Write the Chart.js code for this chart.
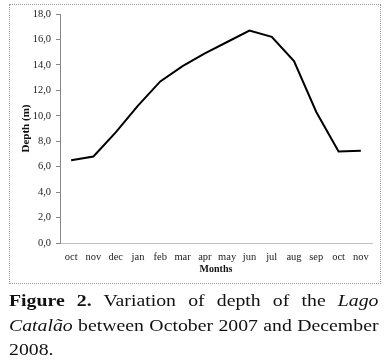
<!DOCTYPE html>
<html>
<head>
<meta charset="utf-8">
<script src="https://cdn.jsdelivr.net/npm/chart.js@4"></script>
<style>
  html, body { margin: 0; padding: 0; background: #fff; }
  body { width: 387px; height: 362px; position: relative; overflow: hidden; }
  #frame { position: absolute; left: 9px; top: 4px; width: 372px; height: 280px; border: 1px dotted #999; box-sizing: border-box; }
  #wrap { position: absolute; left: 0; top: 0; width: 387px; height: 290px; }
  #caption { position: absolute; left: 9px; top: 288px; width: 327px; transform: scaleX(1.13); transform-origin: 0 0; font-family: "Liberation Serif", "Times New Roman", serif; font-size: 17.5px; line-height: 24.5px; color: #111; }
  #caption .ln { display: block; white-space: nowrap; }
  #caption .j { text-align: justify; text-align-last: justify; white-space: normal; }
  #caption b { font-weight: bold; }
</style>
</head>
<body>
<div id="frame"></div>
<div id="wrap"><canvas id="c" width="387" height="290"></canvas></div>
<div id="caption"><span class="ln j"><b>Figure 2.</b> Variation of depth of the <i>Lago</i></span><span class="ln j"><i>Catalão</i> between October 2007 and December</span><span class="ln">2008.</span></div>
<script>
const categories = ["oct", "nov", "dec", "jan", "feb", "mar", "apr", "may", "jun", "jul", "aug", "sep", "oct", "nov"];
const depthValues = [6.5, 6.8, 8.7, 10.8, 12.7, 13.9, 14.9, 15.8, 16.7, 16.2, 14.3, 10.3, 7.2, 7.25];
const yTicks = [0, 2, 4, 6, 8, 10, 12, 14, 16, 18];

new Chart(document.getElementById('c'), {
  type: 'line',
  data: {
    labels: categories,
    datasets: [{
      data: depthValues,
      borderColor: '#000',
      borderWidth: 2,
      pointRadius: 0,
      tension: 0,
      fill: false
    }]
  },
  options: {
    responsive: false,
    animation: false,
    layout: { padding: { left: 10, right: 15, top: 14, bottom: 10 } },
    plugins: { legend: { display: false }, tooltip: { enabled: false } },
    scales: {
      x: {
        offset: true,
        grid: { display: false, drawTicks: false },
        border: { display: true, color: '#d8b4dc', width: 1 },
        ticks: { color: '#222', font: { family: 'Liberation Serif', size: 10.5 }, padding: 8, maxRotation: 0, autoSkip: false },
        title: { display: true, text: 'Months', color: '#111', font: { family: 'Liberation Serif', size: 10, weight: 'bold' }, padding: { top: 0, bottom: 5 } },
        afterFit: (s) => { s.height = 37; }
      },
      y: {
        min: 0, max: 18,
        afterBuildTicks: (s) => { s.ticks = yTicks.map(v => ({ value: v })); },
        grid: { drawOnChartArea: false, drawTicks: true, tickLength: 4, color: '#888' },
        border: { display: true, color: '#888', width: 1 },
        ticks: { color: '#222', font: { family: 'Liberation Serif', size: 10.5 }, padding: 5, callback: (v) => v.toFixed(1).replace('.', ',') },
        title: { display: true, text: 'Depth (m)', color: '#111', font: { family: 'Liberation Serif', size: 11, weight: 'bold' }, padding: { top: 10, bottom: 0 } },
        afterFit: (s) => { s.width = 50; }
      }
    }
  }
});
</script>
</body>
</html>
